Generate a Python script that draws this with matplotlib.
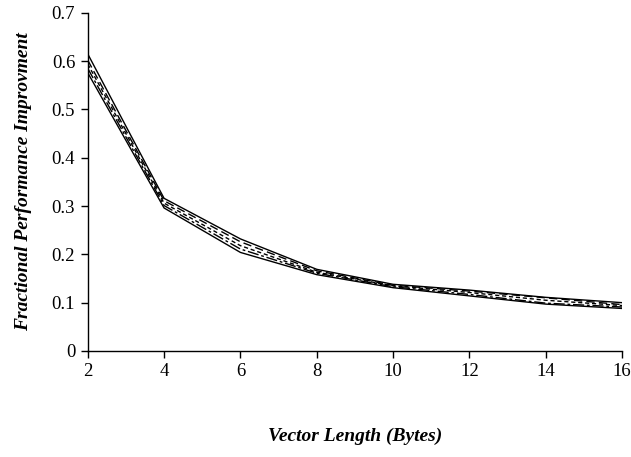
import numpy as np
import matplotlib
matplotlib.use("Agg")
import matplotlib.pyplot as plt

plt.rcParams['font.family'] = ['Liberation Serif', 'DejaVu Serif']

# vector length (bytes)
vec_len = [2, 4, 6, 8, 10, 12, 14, 16]

# fractional performance improvement, one list per curve
series_a = [0.615, 0.316, 0.232, 0.169, 0.138, 0.126, 0.111, 0.100]
series_b = [0.602, 0.311, 0.226, 0.166, 0.136, 0.124, 0.110, 0.096]
series_c = [0.594, 0.306, 0.218, 0.163, 0.135, 0.121, 0.105, 0.094]
series_d = [0.585, 0.301, 0.211, 0.161, 0.133, 0.117, 0.099, 0.091]
series_e = [0.576, 0.296, 0.204, 0.158, 0.131, 0.114, 0.097, 0.088]

styles = ['-', (0, (6, 3)), (0, (3, 2)), (0, (8, 2, 2, 2)), '-']

fig = plt.figure(figsize=(6.31, 4.57), dpi=100)
ax = fig.add_axes([0.139, 0.232, 0.847, 0.740])

for ys, ls in zip([series_a, series_b, series_c, series_d, series_e], styles):
    ax.plot(vec_len, ys, color='black', linewidth=1.0, linestyle=ls)

ax.set_xlim(2, 16)
ax.set_ylim(0, 0.7)
ax.set_xticks(np.arange(2, 17, 2))
ax.set_yticks(np.arange(0, 0.71, 0.1))
ax.set_yticklabels(['0', '0.1', '0.2', '0.3', '0.4', '0.5', '0.6', '0.7'])

ax.spines['top'].set_visible(False)
ax.spines['right'].set_visible(False)
ax.spines['left'].set_linewidth(1.0)
ax.spines['bottom'].set_linewidth(1.0)
ax.tick_params(direction='out', length=5, width=1, labelsize=13.5, pad=4)

ax.set_xlabel('Vector Length (Bytes)', fontsize=14, fontweight='bold',
              fontstyle='italic', labelpad=34)
ax.set_ylabel('Fractional Performance Improvment', fontsize=14,
              fontweight='bold', fontstyle='italic', labelpad=14)

fig.savefig('out.png', dpi=100)
